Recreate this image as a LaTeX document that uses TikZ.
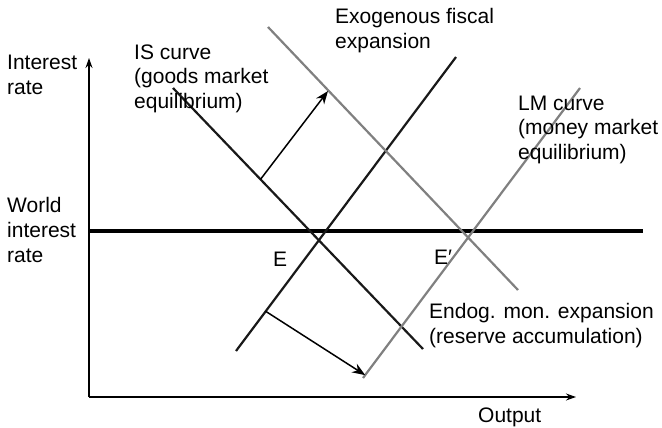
\documentclass[tikz,border=0pt]{standalone}
\usepackage{fontspec}
\setmainfont{Liberation Sans}
\usetikzlibrary{arrows.meta,calc}

\begin{document}
\begin{tikzpicture}[x=1pt,y=-1pt,
  lbl/.style={font=\fontsize{21}{25}\selectfont, inner sep=0pt, anchor=base west, align=left},
  curve/.style={line width=2.2pt, black!90},
  shifted/.style={line width=2.2pt, black!50},
  move/.style={line width=1.5pt, -{Stealth[length=13pt,width=10pt]}}]
\useasboundingbox (0,0) rectangle (662,428);
% axes
\coordinate (origin) at (89,397);
\coordinate (ytop) at (89,58);
\coordinate (xend) at (576,397);
\draw[line width=1.2pt, -{Stealth[length=10pt,width=7pt]}] (origin) -- (ytop);
\draw[line width=1.2pt, -{Stealth[length=10pt,width=7pt]}] (origin) -- (xend);
% world interest rate
\coordinate (w1) at (89,231);
\coordinate (w2) at (643,231);
\draw[line width=4pt] (w1) -- (w2);
% IS and LM before the shift
\coordinate (is1) at (173,88);
\coordinate (is2) at (423,349);
\coordinate (lm1) at (236,351);
\coordinate (lm2) at (456,57);
\draw[curve] (is1) -- (is2);
\draw[curve] (lm1) -- (lm2);
% IS and LM after the shift
\coordinate (isb1) at (268,27);
\coordinate (isb2) at (518,290);
\coordinate (lmb1) at (363,378);
\coordinate (lmb2) at (580,88);
\draw[shifted] (isb1) -- (isb2);
\draw[shifted] (lmb1) -- (lmb2);
% shifts
\coordinate (isup) at ($(is1)!0.35!(is2)$);
\coordinate (istip) at (328,91);
\coordinate (lmdown) at ($(lm1)!0.135!(lm2)$);
\coordinate (lmtip) at ($(lmb1)!0.01!(lmb2)$);
\draw[move] (isup) -- (istip);
\draw[move] (lmdown) -- (lmtip);
% labels (base = last line)
\node[lbl] (yname) at (7,95) {Interest\\rate};
\node[lbl] (wname) at (7,262) {World\\interest\\rate};
\node[lbl] (isname) at (134,109) {IS curve\\(goods market\\equilibrium)};
\node[lbl] (fiscal) at (335,49) {Exogenous fiscal\\expansion};
\node[lbl] (lmname) at (518,160) {LM curve\\(money market\\equilibrium)};
\node[lbl] (monexp) at (429,343) {Endog. mon. expansion\\(reserve accumulation)};
\node[lbl] (xname) at (478,422) {Output};
\node[lbl] (eq) at (273,266) {E};
\node[lbl] (eqb) at (434,264) {E′};
\end{tikzpicture}
\end{document}
